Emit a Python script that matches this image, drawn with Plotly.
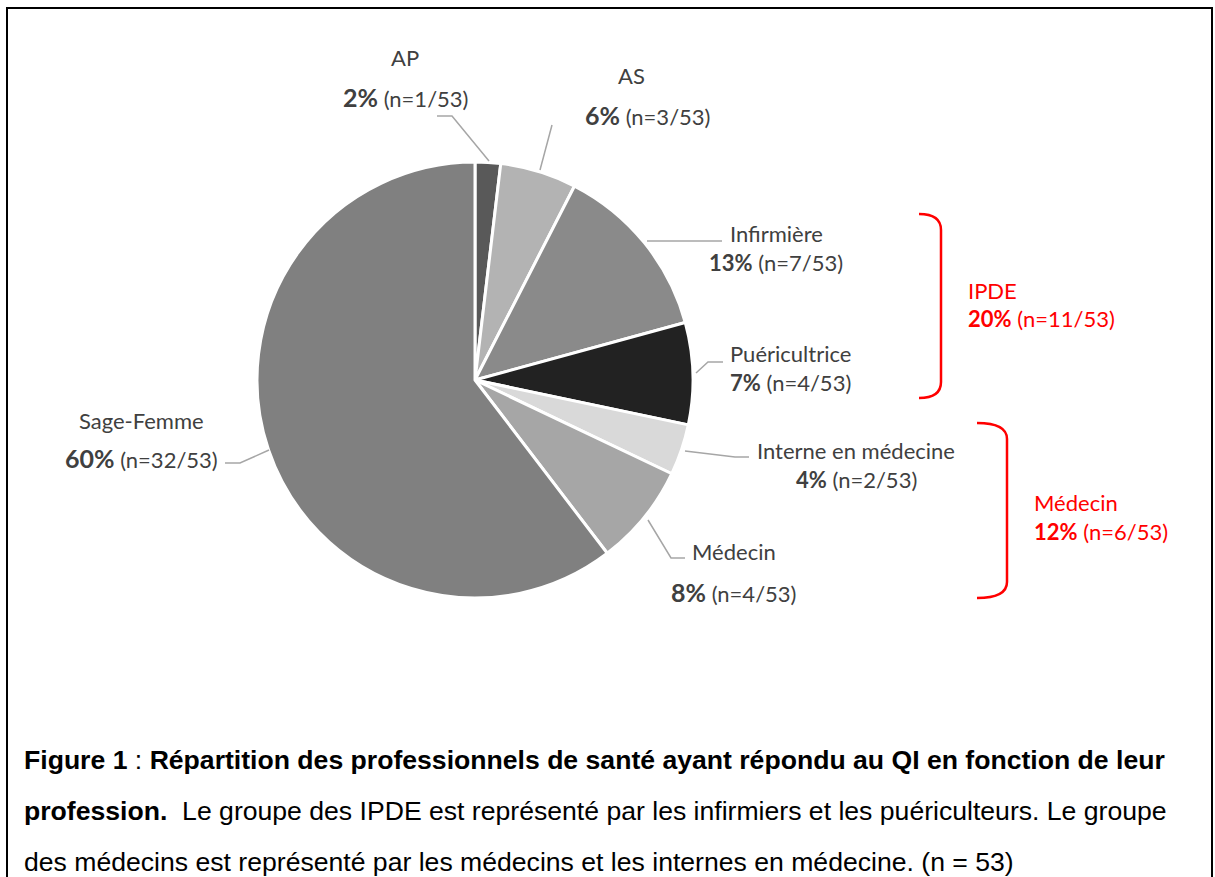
import plotly.graph_objects as go

# Data
professions = ["AP", "AS", "Infirmière", "Puéricultrice", "Interne en médecine", "Médecin", "Sage-Femme"]
counts = [1, 3, 7, 4, 2, 4, 32]
percents = [2, 6, 13, 7, 4, 8, 60]
total = 53
slice_colors = ["#595959", "#b3b3b3", "#8a8a8a", "#222222", "#d9d9d9", "#a6a6a6", "#808080"]
groups = ["IPDE", "Médecin"]
group_counts = [11, 6]
group_percents = [20, 12]

W, H = 1215, 877
LABEL_FONT = "Lato"
TXT = "#404040"

fig = go.Figure()

cx, cy, r = 475, 380, 218
fig.add_trace(go.Pie(
    labels=professions, values=counts, sort=False, direction="clockwise", rotation=0,
    marker=dict(colors=slice_colors, line=dict(color="white", width=3)),
    textinfo="none", hoverinfo="label+value+percent", showlegend=False,
    domain=dict(x=[(cx - r) / W, (cx + r) / W], y=[1 - (cy + r) / H, 1 - (cy - r) / H]),
))

# label positions: (name x, name y, value x, value y)
label_pos = {
    "AP": (405, 57, 405, 97),
    "AS": (631, 75, 647, 115),
    "Infirmière": (776, 233, 776, 262),
    "Puéricultrice": (790, 353, 790, 382),
    "Interne en médecine": (856, 450, 856, 479),
    "Médecin": (734, 551, 733, 592),
    "Sage-Femme": (141, 420, 141, 458),
}
leaders = {
    "AP": [(437, 116), (452, 116), (489, 161)],
    "AS": [(552, 125), (540, 170)],
    "Infirmière": [(722, 241), (647, 241)],
    "Puéricultrice": [(723, 362), (708, 362), (696, 373)],
    "Interne en médecine": [(749, 457), (735, 457), (685, 451)],
    "Médecin": [(685, 558), (671, 558), (648, 520)],
    "Sage-Femme": [(225, 463), (240, 463), (269, 450)],
}
big = {"AP", "AS", "Médecin", "Sage-Femme"}

for name, n, p in zip(professions, counts, percents):
    nx, ny, vx, vy = label_pos[name]
    fig.add_annotation(x=nx, y=ny, xref="x", yref="y", text=name, showarrow=False,
                       font=dict(family=LABEL_FONT, size=22, color=TXT), xanchor="center", yanchor="middle")
    psize = 25 if name in big else 22
    fig.add_annotation(x=vx, y=vy, xref="x", yref="y",
                       text=f"<b><span style='font-size:{psize}px'>{p}%</span></b> (n={n}/{total})",
                       showarrow=False, font=dict(family=LABEL_FONT, size=22, color=TXT),
                       xanchor="center", yanchor="middle")
    pts = leaders[name]
    path = "M " + " L ".join(f"{x},{y}" for x, y in pts)
    fig.add_shape(type="path", path=path, xref="x", yref="y", line=dict(color="#a6a6a6", width=1.5))

# group brackets & labels
RED = "#ff0000"
brackets = [
    (919, 941, 214, 398),
    (977, 1007, 423, 598),
]
group_label_pos = [(966, 290, 318), (1032, 502, 531)]
for (x0, x1, y0, y1), g, gc, gp, (gx, gy1, gy2) in zip(brackets, groups, group_counts, group_percents, group_label_pos):
    path = (f"M {x0},{y0} Q {x1},{y0} {x1},{y0+16} L {x1},{y1-16} Q {x1},{y1} {x0},{y1}")
    fig.add_shape(type="path", path=path, xref="x", yref="y", line=dict(color=RED, width=2.5))
    fig.add_annotation(x=gx, y=gy1, xref="x", yref="y", text=g, showarrow=False,
                       font=dict(family=LABEL_FONT, size=22, color=RED), xanchor="left", yanchor="middle")
    fig.add_annotation(x=gx, y=gy2, xref="x", yref="y",
                       text=f"<b>{gp}%</b> (n={gc}/{total})", showarrow=False,
                       font=dict(family=LABEL_FONT, size=22, color=RED), xanchor="left", yanchor="middle")

# frame
fig.add_shape(type="path", path=f"M 7,{H+5} L 7,8 L 1212,8 L 1212,{H+5}", xref="x", yref="y",
              line=dict(color="black", width=2))

# caption
cap_lines = [
    "<b>Figure 1</b> : <b>Répartition des professionnels de santé ayant répondu au QI en fonction de leur</b>",
    "<b>profession.</b>&nbsp; Le groupe des IPDE est représenté par les infirmiers et les puériculteurs. Le groupe",
    "des médecins est représenté par les médecins et les internes en médecine. (n = 53)",
]
for i, line in enumerate(cap_lines):
    fig.add_annotation(x=22, y=760 + 51 * i, xref="x", yref="y", text=line, showarrow=False,
                       font=dict(family="Liberation Sans", size=26.6, color="black"),
                       xanchor="left", yanchor="middle")

fig.update_layout(
    width=W, height=H, margin=dict(l=0, r=0, t=0, b=0),
    paper_bgcolor="white", plot_bgcolor="white",
    xaxis=dict(range=[0, W], visible=False, fixedrange=True),
    yaxis=dict(range=[H, 0], visible=False, fixedrange=True),
)
fig.write_html("out.html", config={"displayModeBar": False},
               post_script="document.body.style.margin='0';document.body.style.overflow='hidden';")
